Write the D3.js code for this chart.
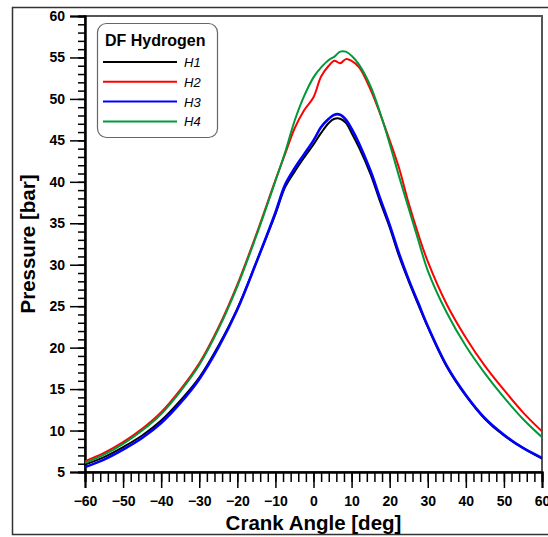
<!DOCTYPE html>
<html>
<head>
<meta charset="utf-8">
<script src="https://cdn.jsdelivr.net/npm/d3@7"></script>
<style>
  body { margin: 0; background: #fff; }
  svg { display: block; font-family: Arial, "Liberation Sans", sans-serif; }
</style>
</head>
<body>
<script>
// crank angle positions (deg), shared by all four runs
var angles = [-60, -55, -50, -45, -40, -35, -30, -25, -20, -15, -10, -7.5, -5, -2.5, 0, 2, 4, 5.5, 7, 8.5,
              10, 12, 15, 17.5, 20, 22.5, 25, 27.5, 30, 35, 40, 45, 50, 55, 60];

// cylinder pressure (bar)
var h1 = [5.9, 6.8, 8.0, 9.4, 11.2, 13.6, 16.4, 20.2, 24.7, 30.3, 36.1, 39.3, 41.2, 42.9, 44.5, 45.9, 47.1, 47.6, 47.6, 47.1,
          45.9, 44.1, 40.9, 37.6, 34.5, 31.0, 28.0, 25.2, 22.5, 17.7, 14.2, 11.4, 9.4, 7.9, 6.6];
var h2 = [6.3, 7.3, 8.6, 10.2, 12.2, 14.9, 18.1, 22.4, 27.6, 33.7, 40.2, 43.3, 46.4, 48.6, 50.2, 52.7, 54.0, 54.6, 54.3, 54.8,
          54.6, 53.8, 51.1, 48.2, 45.0, 41.6, 37.4, 33.7, 30.4, 25.2, 21.2, 17.8, 14.9, 12.2, 9.9];
var h3 = [5.6, 6.5, 7.7, 9.1, 10.9, 13.3, 16.2, 20.0, 24.6, 30.3, 36.3, 39.6, 41.6, 43.3, 45.0, 46.6, 47.6, 48.1, 48.1, 47.5,
          46.4, 44.6, 41.3, 38.0, 34.8, 31.3, 28.2, 25.4, 22.6, 17.8, 14.3, 11.5, 9.5, 7.9, 6.7];
var h4 = [6.1, 7.1, 8.4, 10.0, 12.0, 14.7, 17.9, 22.2, 27.4, 33.5, 40.1, 43.5, 47.3, 50.3, 52.6, 53.8, 54.7, 55.1, 55.7, 55.7,
          55.2, 54.1, 51.5, 48.3, 44.6, 40.6, 36.8, 33.0, 29.3, 24.2, 20.2, 16.9, 14.0, 11.4, 9.2];

var seriesNames = ["H1", "H2", "H3", "H4"];
var seriesColors = ["#000000", "#ff0000", "#0000ff", "#00993a"];
var legendTitle = "DF Hydrogen";

var xTicks = [-60, -50, -40, -30, -20, -10, 0, 10, 20, 30, 40, 50, 60];
var yTicks = [5, 10, 15, 20, 25, 30, 35, 40, 45, 50, 55, 60];

window.onload = function() {
  var allSeries = [h1, h2, h3, h4];
  draw(allSeries);
};

function draw(allSeries) {
  var W = 548, H = 537;
  var margin = {top: 16, right: 6, bottom: 65, left: 85},
      width = W - margin.left - margin.right,
      height = H - margin.top - margin.bottom;

  var root = d3.select("body")
    .append("svg")
    .attr("width", W)
    .attr("height", H);

  // outer figure frame
  root.append("rect")
    .attr("x", 12.5)
    .attr("y", 7.5)
    .attr("width", 560)
    .attr("height", 527)
    .attr("fill", "none")
    .attr("stroke", "#333")
    .attr("stroke-width", 1.5);

  var svg = root.append("g")
    .attr("transform", "translate(" + margin.left + "," + margin.top + ")");

  var xscale = d3.scaleLinear().domain([-60, 60]).range([0, width]);
  var yscale = d3.scaleLinear().domain([5, 60]).range([height, 0]);

  svg.append("clipPath")
    .attr("id", "plotclip")
    .append("rect")
    .attr("width", width)
    .attr("height", height);

  // plot box (top / right in grey)
  svg.append("rect")
    .attr("width", width)
    .attr("height", height)
    .attr("fill", "none")
    .attr("stroke", "#555")
    .attr("stroke-width", 2);

  // minor ticks
  var xMinor = d3.range(-60, 61, 2);
  var yMinor = d3.range(5, 61, 1);

  var xAxisMinor = d3.axisBottom(xscale).tickValues(xMinor).tickSize(10).tickFormat("");
  var yAxisMinor = d3.axisLeft(yscale).tickValues(yMinor).tickSize(7).tickFormat("");

  var xAxis = d3.axisBottom(xscale).tickValues(xTicks).tickSize(16).tickPadding(8);
  var yAxis = d3.axisLeft(yscale).tickValues(yTicks).tickSize(15).tickPadding(5);

  svg.append("g")
    .attr("transform", "translate(0," + height + ")")
    .attr("class", "axis")
    .call(xAxisMinor);

  svg.append("g")
    .attr("class", "axis")
    .call(yAxisMinor);

  svg.append("g")
    .attr("transform", "translate(0," + height + ")")
    .attr("class", "axis")
    .call(xAxis);

  svg.append("g")
    .attr("class", "axis")
    .call(yAxis);

  svg.selectAll(".axis path").attr("stroke", "#000").attr("stroke-width", 2);
  svg.selectAll(".axis line").attr("stroke", "#000").attr("stroke-width", 1.5);
  svg.selectAll(".axis text")
    .attr("fill", "#000")
    .style("font-size", "14px")
    .style("font-weight", "bold");

  // curves
  var line = d3.line()
    .x(function(d, i) { return xscale(angles[i]); })
    .y(function(d) { return yscale(d); })
    .curve(d3.curveCatmullRom.alpha(0.5));

  svg.append("g")
    .attr("clip-path", "url(#plotclip)")
    .selectAll("path")
    .data(allSeries)
    .enter()
    .append("path")
    .attr("d", line)
    .attr("fill", "none")
    .attr("stroke", function(d, i) { return seriesColors[i]; })
    .attr("stroke-width", function(d, i) { return i == 2 ? 2.6 : 2; });

  // axis titles
  svg.append("text")
    .attr("x", width / 2)
    .attr("y", height + 58)
    .attr("text-anchor", "middle")
    .style("font-size", "20.5px")
    .style("font-weight", "bold")
    .text("Crank Angle [deg]");

  svg.append("text")
    .attr("transform", "translate(-50," + (height / 2) + ") rotate(-90)")
    .attr("text-anchor", "middle")
    .style("font-size", "20.5px")
    .style("font-weight", "bold")
    .text("Pressure [bar]");

  // legend
  var legend = root.append("g")
    .attr("transform", "translate(97,23)");

  legend.append("rect")
    .attr("x", 0.5)
    .attr("y", 0.5)
    .attr("width", 120)
    .attr("height", 114)
    .attr("rx", 9)
    .attr("fill", "#fff")
    .attr("stroke", "#666")
    .attr("stroke-width", 1.2);

  legend.append("text")
    .attr("x", 8)
    .attr("y", 23)
    .style("font-size", "16px")
    .style("font-weight", "bold")
    .text(legendTitle);

  var items = legend.selectAll(".item")
    .data(seriesNames)
    .enter()
    .append("g")
    .attr("class", "item")
    .attr("transform", function(d, i) { return "translate(0," + (39 + i * 19.8) + ")"; });

  items.append("line")
    .attr("x1", 6)
    .attr("x2", 80)
    .attr("stroke", function(d, i) { return seriesColors[i]; })
    .attr("stroke-width", 2);

  items.append("text")
    .attr("x", 87)
    .attr("y", 5)
    .style("font-size", "13px")
    .style("font-style", "italic")
    .text(function(d) { return d; });
}
</script>
</body>
</html>
